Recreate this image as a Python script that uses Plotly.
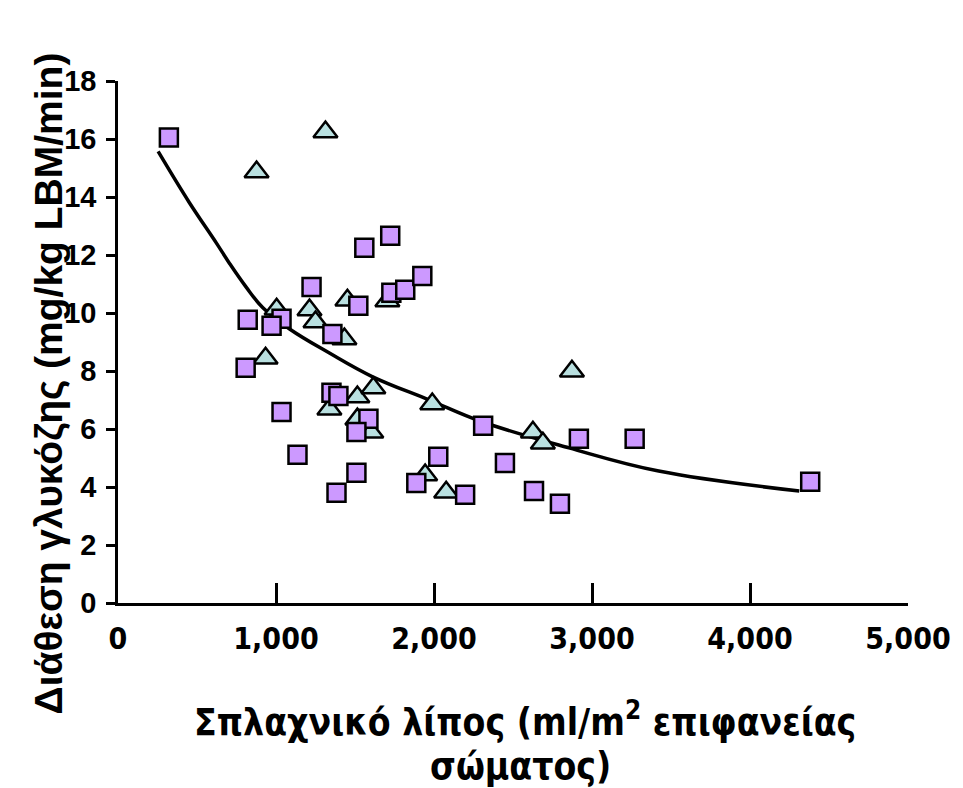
import plotly.graph_objects as go

# Squares (purple)
sq_x = [322, 1225, 821, 1035, 972, 1357, 1521, 1730, 1818, 1926, 1559, 1723,
        808, 1351, 1395, 1035, 1585, 1509, 1136, 1509, 1383, 2027, 1888, 2197,
        2449, 2633, 2797, 2311, 2917, 3270, 4381]
sq_y = [16.05, 10.9, 9.77, 9.8, 9.56, 9.28, 10.25, 10.7, 10.8, 11.28, 12.25, 12.66,
        8.11, 7.25, 7.14, 6.59, 6.35, 5.9, 5.11, 4.49, 3.8, 5.04, 4.14, 3.73,
        4.83, 3.86, 3.42, 6.11, 5.66, 5.66, 4.18]

# Triangles (light teal)
tri_x = [877, 1313, 1004, 1212, 1250, 1433, 1452, 1705, 934, 1338, 1515, 1616,
         1515, 1603, 1989, 1944, 2077, 2626, 2689, 2873]
tri_y = [14.86, 16.24, 10.13, 10.1, 9.69, 9.1, 10.44, 10.41, 8.44, 6.68, 7.1, 7.41,
         6.34, 5.89, 6.86, 4.41, 3.82, 5.89, 5.51, 7.99]

# Trend curve
fit_x = [254, 450, 623, 707, 810, 917, 1086, 1338, 1612, 1970, 2304, 2854, 3422, 4312]
fit_y = [15.57, 13.82, 12.41, 11.7, 10.9, 10.18, 9.45, 8.62, 7.8, 7.0, 6.25, 5.35, 4.55, 3.86]

x_ticks = [0, 1000, 2000, 3000, 4000, 5000]
x_ticklabels = ["0", "1,000", "2,000", "3,000", "4,000", "5,000"]
y_ticks = [0, 2, 4, 6, 8, 10, 12, 14, 16, 18]

x_title_line1 = "Σπλαχνικό λίπος (ml/m<sup>2</sup> επιφανείας"
x_title_line2 = "σώματος)"
y_title = "Διάθεση γλυκόζης (mg/kg LBM/min)"

fig = go.Figure()
fig.add_trace(go.Scatter(x=fit_x, y=fit_y, mode="lines",
                         line=dict(color="black", width=3.5, shape="spline", smoothing=1.1),
                         hoverinfo="skip", showlegend=False))
fig.add_trace(go.Scatter(x=tri_x, y=tri_y, mode="markers",
                         marker=dict(symbol="triangle-up", size=21, color="#B9E0E0",
                                     line=dict(color="black", width=2.5)),
                         showlegend=False))
fig.add_trace(go.Scatter(x=sq_x, y=sq_y, mode="markers",
                         marker=dict(symbol="square", size=18, color="#CC99FF",
                                     line=dict(color="black", width=2.5)),
                         showlegend=False))

bold_font = "Arial, Liberation Sans, sans-serif"
narrow_font = "Liberation Sans Narrow, DejaVu Sans Condensed, Arial, sans-serif"
title_font = dict(family=narrow_font, size=37, color="black", weight="bold")

fig.update_layout(
    width=963, height=788,
    margin=dict(l=118, r=53, t=81, b=185),
    plot_bgcolor="white", paper_bgcolor="white",
    xaxis=dict(range=[0, 5000], tickvals=x_ticks, ticktext=x_ticklabels,
               showgrid=False, zeroline=False, showline=True, linecolor="black",
               linewidth=2.5, ticks="inside", ticklen=20, tickwidth=2.5, tickcolor="black",
               ticklabelstandoff=7,
               tickfont=dict(family=narrow_font, size=30, color="black", weight="bold")),
    yaxis=dict(range=[0, 18], tickvals=y_ticks,
               showgrid=False, zeroline=False, showline=True, linecolor="black",
               linewidth=2.5, ticks="outside", ticklen=9, tickwidth=2.5, tickcolor="black",
               ticklabelstandoff=4,
               tickfont=dict(family=bold_font, size=29, color="black", weight="bold")),
    annotations=[
        dict(text=x_title_line1, xref="paper", yref="paper", x=0.515, y=(603 - 719) / 522,
             xanchor="center", yanchor="middle", showarrow=False, borderpad=0,
             font=title_font),
        dict(text=x_title_line2, xref="paper", yref="paper", x=0.51, y=(603 - 766) / 522,
             xanchor="center", yanchor="middle", showarrow=False, borderpad=0,
             font=title_font),
        dict(text=y_title, xref="paper", yref="paper", x=-0.0884, y=0.421,
             xanchor="center", yanchor="middle", showarrow=False, textangle=-90,
             font=dict(family=bold_font, size=39, color="black", weight="bold")),
    ],
)

fig.write_html("out.html", post_script="document.body.style.margin='0';",
               config={"displayModeBar": False})
